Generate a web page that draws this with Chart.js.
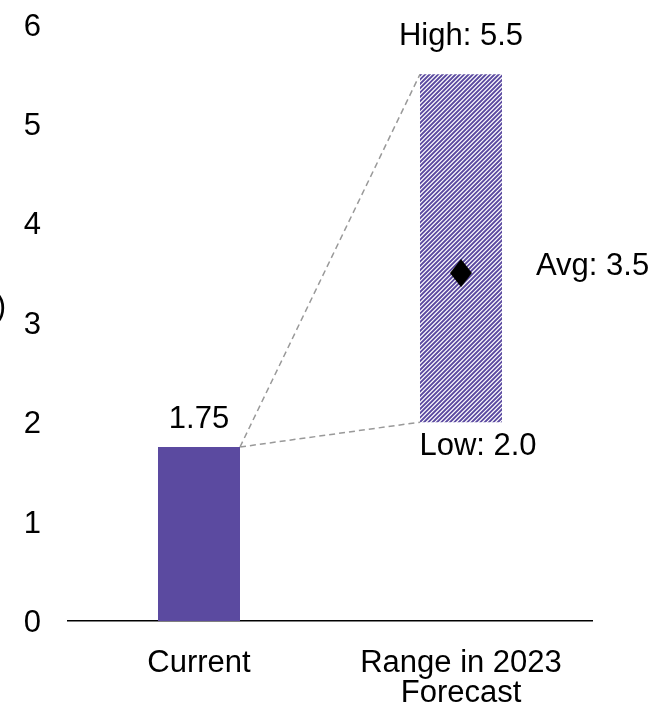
<!DOCTYPE html>
<html>
<head>
<meta charset="utf-8">
<script src="https://cdn.jsdelivr.net/npm/chart.js@4/dist/chart.umd.min.js"></script>
<style>
  html, body { margin: 0; padding: 0; background: #fff; overflow: hidden; }
  #wrap { position: relative; width: 652px; height: 707px; }
</style>
</head>
<body>
<div id="wrap"><canvas id="c"></canvas></div>
<script>
// ---- data ----
const categories = ['Current', ['Range in 2023', 'Forecast']];
const barLow = [0, 2.0];
const barHigh = [1.75, 5.5];
const avgValues = [null, 3.5];
const yTickValues = [0, 1, 2, 3, 4, 5, 6];
const axisTitleFragment = '(%)';

// ---- styles ----
const PURPLE = '#5B4AA0';
const FONT = "'Liberation Sans', Arial, sans-serif";
const FS = 31;

function makeHatch() {
  const s = 13, period = 13 / 3, on = 0.6 * period, ss = 4;
  const c = document.createElement('canvas');
  c.width = s; c.height = s;
  const g = c.getContext('2d');
  const img = g.createImageData(s, s);
  for (let y = 0; y < s; y++) {
    for (let x = 0; x < s; x++) {
      let cov = 0;
      for (let sy = 0; sy < ss; sy++) for (let sx = 0; sx < ss; sx++) {
        const t = (x + (sx + 0.5) / ss) + (y + (sy + 0.5) / ss);
        if ((t % period) < on) cov++;
      }
      cov /= ss * ss;
      const i = (y * s + x) * 4;
      img.data[i] = Math.round(255 + (0x5B - 255) * cov);
      img.data[i + 1] = Math.round(255 + (0x4A - 255) * cov);
      img.data[i + 2] = Math.round(255 + (0xA0 - 255) * cov);
      img.data[i + 3] = 255;
    }
  }
  g.putImageData(img, 0, 0);
  return document.createElement('canvas').getContext('2d').createPattern(c, 'repeat');
}

function makeDiamond() {
  const w = 22, h = 28;
  const c = document.createElement('canvas');
  c.width = w; c.height = h;
  const g = c.getContext('2d');
  g.fillStyle = '#000';
  g.beginPath();
  g.moveTo(w / 2, 0); g.lineTo(w, h / 2); g.lineTo(w / 2, h); g.lineTo(0, h / 2);
  g.closePath(); g.fill();
  return c;
}

const hatch = makeHatch();
const diamond = makeDiamond();

const annotPlugin = {
  id: 'annot',
  beforeDatasetsDraw(chart) {
    const ctx = chart.ctx;
    const bars = chart.getDatasetMeta(0).data;
    const b0 = bars[0], b1 = bars[1];
    const x0 = b0.x + b0.width / 2;
    const x1 = b1.x - b1.width / 2;
    ctx.save();
    ctx.strokeStyle = '#999999';
    ctx.lineWidth = 1.5;
    ctx.setLineDash([6, 4]);
    ctx.beginPath();
    ctx.moveTo(x0, b0.y); ctx.lineTo(x1, b1.y);
    ctx.moveTo(x0, b0.y); ctx.lineTo(x1, b1.base);
    ctx.stroke();
    ctx.restore();
  },
  afterDatasetsDraw(chart) {
    const ctx = chart.ctx;
    const bars = chart.getDatasetMeta(0).data;
    const pts = chart.getDatasetMeta(1).data;
    const b0 = bars[0], b1 = bars[1], p = pts[1];
    ctx.save();
    ctx.fillStyle = '#000';
    ctx.font = FS + 'px ' + FONT;
    ctx.textBaseline = 'middle';
    ctx.textAlign = 'center';
    ctx.fillText(barHigh[0].toFixed(2), b0.x, b0.y - 28);
    ctx.fillText('High: ' + barHigh[1].toFixed(1), b1.x, b1.y - 38);
    ctx.fillText('Low: ' + barLow[1].toFixed(1), b1.x + 17, b1.base + 24);
    ctx.textAlign = 'left';
    ctx.fillText('Avg: ' + avgValues[1].toFixed(1), b1.x + b1.width / 2 + 34, p.y - 7);
    // clipped axis title fragment at the far left
    ctx.textAlign = 'right';
    ctx.fillText(axisTitleFragment, 6, 307);
    ctx.restore();
  }
};

new Chart(document.getElementById('c'), {
  data: {
    labels: categories,
    datasets: [
      {
        type: 'bar',
        data: categories.map((c, i) => [barLow[i], barHigh[i]]),
        backgroundColor: [PURPLE, hatch],
        borderWidth: 0,
        barPercentage: 0.313,
        categoryPercentage: 1,
        order: 2
      },
      {
        type: 'line',
        data: avgValues,
        showLine: false,
        pointStyle: diamond,
        pointRadius: 14,
        order: 1
      }
    ]
  },
  options: {
    responsive: true,
    maintainAspectRatio: false,
    animation: false,
    devicePixelRatio: 1,
    layout: { padding: { left: 0, right: 60, top: 24.5, bottom: 0 } },
    plugins: { legend: { display: false }, tooltip: { enabled: false } },
    scales: {
      x: {
        grid: { display: false, drawTicks: false },
        border: { display: true, color: '#000', width: 1.5 },
        ticks: {
          color: '#000',
          font: { family: FONT, size: FS, lineHeight: 0.97 },
          padding: 27,
          maxRotation: 0,
          autoSkip: false
        },
        afterFit(s) { s.height = 86; s.paddingLeft = 0; s.paddingRight = 0; }
      },
      y: {
        min: 0, max: 6,
        grid: { display: false, drawTicks: false },
        border: { display: false },
        afterBuildTicks(s) { s.ticks = yTickValues.map(v => ({ value: v })); },
        ticks: {
          color: '#000',
          font: { family: FONT, size: FS },
          padding: 27,
          labelOffset: 2.5
        },
        afterFit(s) { s.width = 68; s.paddingTop = 0; s.paddingBottom = 0; }
      }
    }
  },
  plugins: [annotPlugin]
});
</script>
</body>
</html>
